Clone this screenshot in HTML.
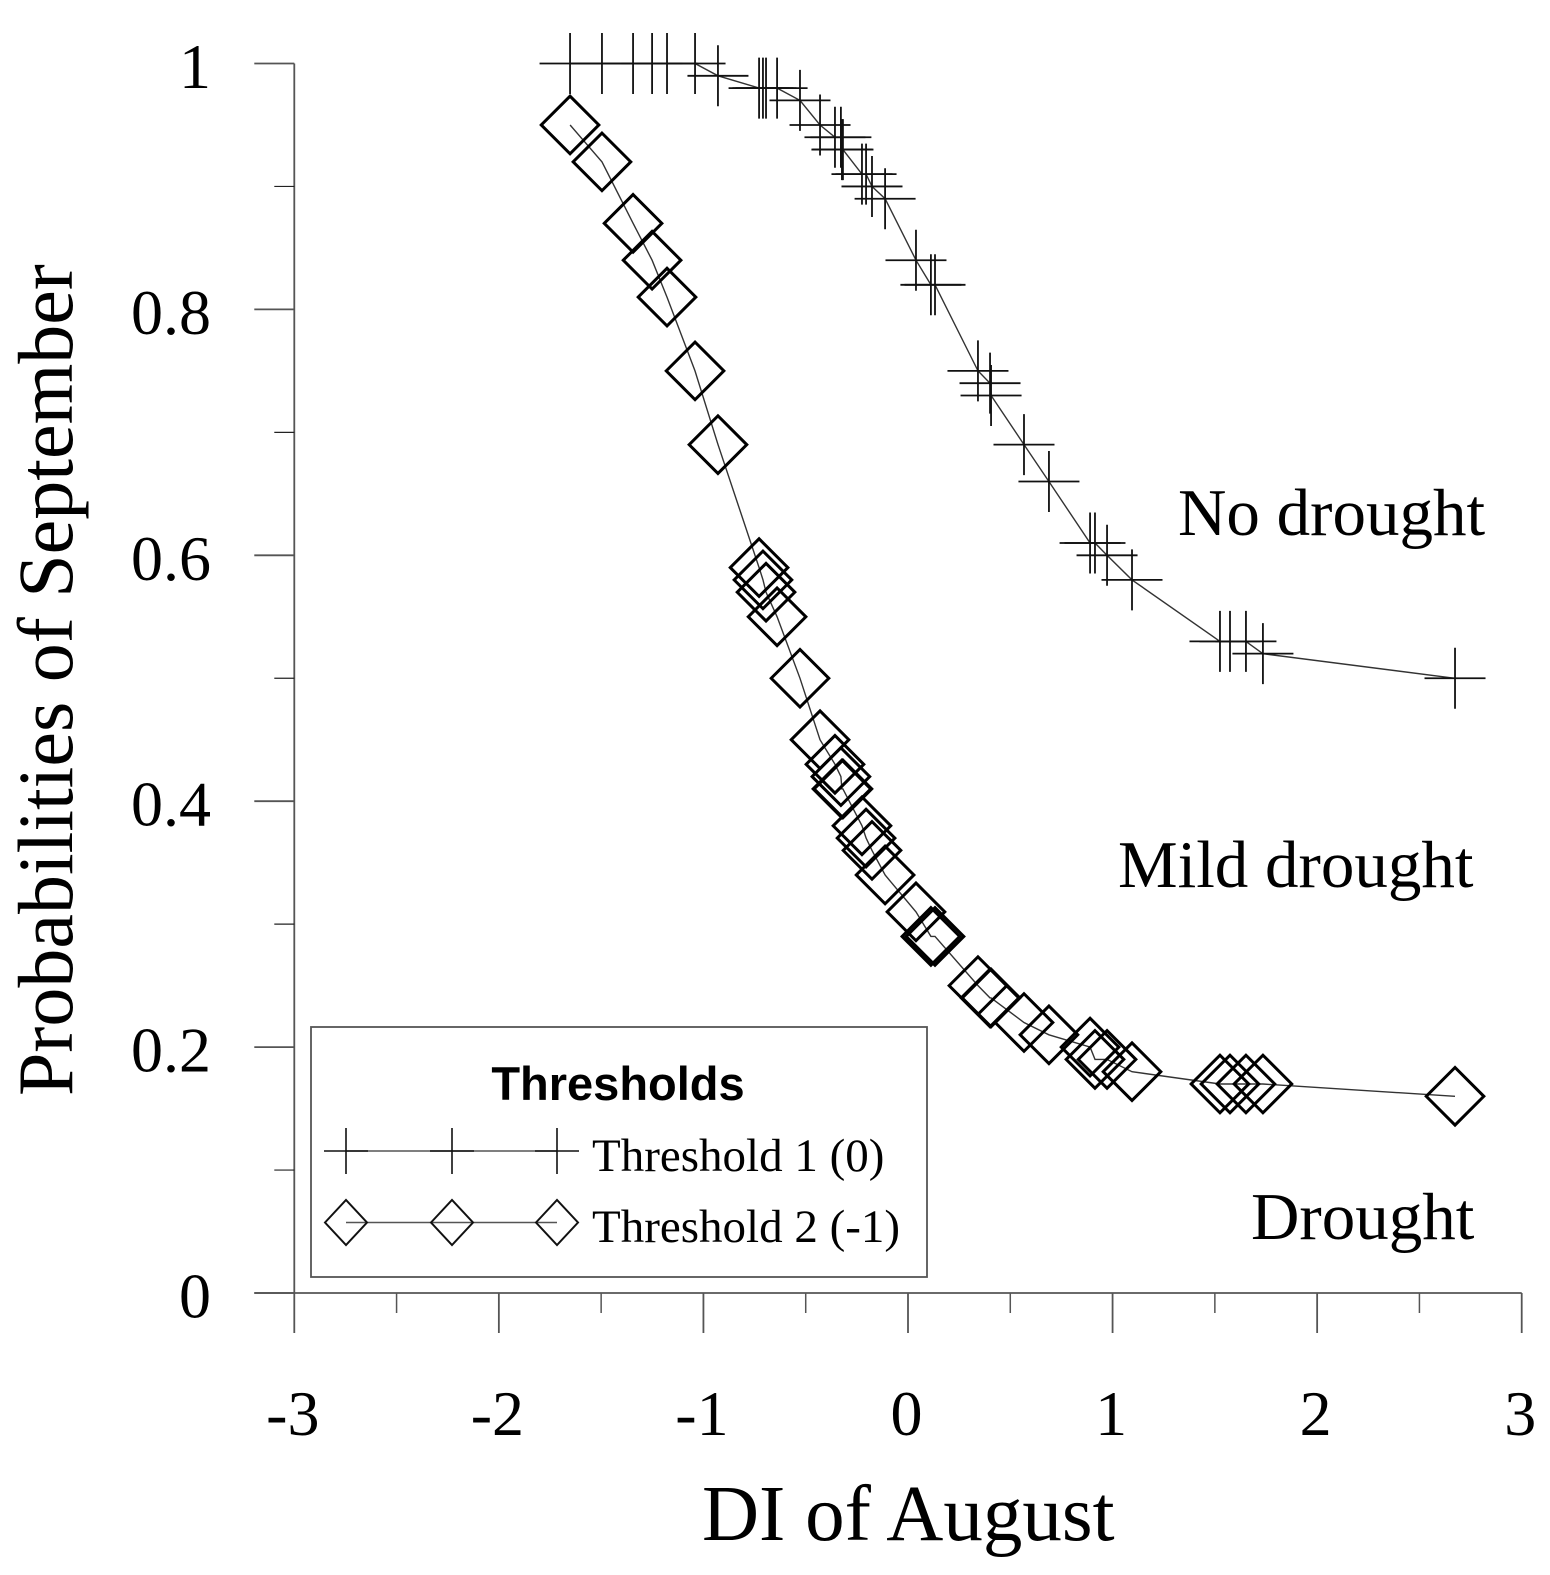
<!DOCTYPE html>
<html lang="en">
<head>
<meta charset="utf-8">
<title>Probabilities of September vs DI of August</title>
<style>
html,body{margin:0;padding:0;background:#fff;}
svg{display:block;}
text{font-family:"Liberation Serif",serif;fill:#000;}
</style>
</head>
<body>
<svg id="chart" xmlns="http://www.w3.org/2000/svg" width="1550" height="1575" viewBox="0 0 1550 1575">
  <rect x="0" y="0" width="1550" height="1575" fill="#fff"/>
  <g id="axes"></g>
  <g id="series"></g>
  <text transform="translate(72,1096) rotate(-90)" font-size="78">Probabilities of September</text>
  <text x="702" y="1540" font-size="79">DI of August</text>
  <text x="1178" y="535" font-size="67">No drought</text>
  <text x="1118" y="887" font-size="67">Mild drought</text>
  <text x="1251" y="1239" font-size="67">Drought</text>
  <g>
    <rect x="311" y="1027" width="616" height="250" fill="#fff" stroke="#555" stroke-width="1.8"/>
    <text x="618" y="1100" text-anchor="middle" font-size="47" font-weight="700" style="font-family:'Liberation Sans',sans-serif">Thresholds</text>
    <g fill="none" stroke="#111" stroke-width="1.6">
      <path stroke="#555" d="M346 1151H557"/>
      <path d="M324 1151H368M346 1128V1174M430 1151H474M452 1128V1174M535 1151H579M557 1128V1174"/>
    </g>
    <text x="592" y="1171" font-size="47">Threshold 1 (0)</text>
    <g fill="none" stroke="#111" stroke-width="2">
      <path stroke="#555" stroke-width="1.6" d="M346 1222.5H557"/>
      <path d="M325 1222.5L346 1200L367 1222.5L346 1245ZM431 1222.5L452 1200L473 1222.5L452 1245ZM536 1222.5L557 1200L578 1222.5L557 1245Z"/>
    </g>
    <text x="592" y="1242" font-size="47">Threshold 2 (-1)</text>
  </g>
</svg>
<script>
var diValues = [-1.652,-1.496,-1.344,-1.251,-1.178,-1.041,-0.929,-0.728,-0.709,-0.694,-0.640,-0.528,-0.430,-0.357,-0.328,-0.323,-0.318,-0.225,-0.205,-0.176,-0.112,0.039,0.112,0.132,0.342,0.401,0.406,0.567,0.689,0.890,0.914,0.973,1.095,1.525,1.574,1.652,1.735,2.674];
var threshold1 = [1,1,1,1,1,1,0.99,0.98,0.98,0.98,0.98,0.97,0.95,0.94,0.94,0.93,0.93,0.91,0.91,0.90,0.89,0.84,0.82,0.82,0.75,0.74,0.73,0.69,0.66,0.61,0.61,0.60,0.58,0.53,0.53,0.53,0.52,0.50];
var threshold2 = [0.95,0.92,0.87,0.84,0.81,0.75,0.69,0.59,0.58,0.57,0.55,0.50,0.45,0.43,0.42,0.41,0.41,0.38,0.37,0.36,0.34,0.31,0.29,0.29,0.25,0.24,0.24,0.22,0.21,0.20,0.19,0.19,0.18,0.17,0.17,0.17,0.17,0.16];
var xTickValues = [-3,-2,-1,0,1,2,3];
var xMinorValues = [-2.5,-1.5,-0.5,0.5,1.5,2.5];
var yTickValues = [0,0.2,0.4,0.6,0.8,1];
var yMinorValues = [0.1,0.3,0.5,0.7,0.9];
var xTickLabels = ['-3','-2','-1','0','1','2','3'];
var yTickLabels = ['0','0.2','0.4','0.6','0.8','1'];

var NS = 'http://www.w3.org/2000/svg';
function xScale(v){ return 908 + 204.57 * v; }
function yScale(v){ return 1293 - 1229.5 * v; }
function make(tag, parent, attrs){
  var el = document.createElementNS(NS, tag);
  for (var k in attrs) el.setAttribute(k, attrs[k]);
  parent.appendChild(el);
  return el;
}
var axes = document.getElementById('axes');
var seriesGroup = document.getElementById('series');
var axisColor = '#555';

var xAxisLine = make('line', axes, {x1: xScale(-3) - 40, y1: yScale(0), x2: xScale(3), y2: yScale(0), stroke: axisColor, 'stroke-width': 1.8});


var yAxisLine = make('line', axes, {x1: xScale(-3), y1: yScale(0), x2: xScale(-3), y2: yScale(1), stroke: axisColor, 'stroke-width': 1.8});



xTickValues.forEach(function(v, i){
  var tick = make('line', axes, {x1: xScale(v), y1: yScale(0), x2: xScale(v), y2: yScale(0) + 40, stroke: axisColor, 'stroke-width': 1.8});
  
  
  var label = make('text', axes, {x: xScale(v) - 1.5, y: 1435, 'text-anchor': 'middle', 'font-size': 64});
  label.textContent = xTickLabels[i];
  
  
});
xMinorValues.forEach(function(v){
  var tick = make('line', axes, {x1: xScale(v), y1: yScale(0), x2: xScale(v), y2: yScale(0) + 20, stroke: axisColor, 'stroke-width': 1.5});
  
  
});
yTickValues.forEach(function(v, i){
  var tick = make('line', axes, {x1: xScale(-3) - 40, y1: yScale(v), x2: xScale(-3), y2: yScale(v), stroke: axisColor, 'stroke-width': 1.8});
  
  
  var label = make('text', axes, {x: 211, y: yScale(v) + 24.5, 'text-anchor': 'end', 'font-size': 64});
  label.textContent = yTickLabels[i];
  
  
});
yMinorValues.forEach(function(v){
  var tick = make('line', axes, {x1: xScale(-3) - 20, y1: yScale(v), x2: xScale(-3), y2: yScale(v), stroke: '#222', 'stroke-width': 1.2});
  
  
});

function linePoints(values){
  return values.map(function(v, i){ return xScale(diValues[i]).toFixed(1) + ',' + yScale(v).toFixed(1); }).join(' ');
}
var line1 = make('polyline', seriesGroup, {points: linePoints(threshold1), fill: 'none', stroke: '#333', 'stroke-width': 1.4});


var line2 = make('polyline', seriesGroup, {points: linePoints(threshold2), fill: 'none', stroke: '#333', 'stroke-width': 1.4});



threshold1.forEach(function(v, i){
  var cx = xScale(diValues[i]), cy = yScale(v), r = 30.5;
  var plus = make('path', seriesGroup, {d: 'M' + (cx - r) + ' ' + cy + 'H' + (cx + r) + 'M' + cx + ' ' + (cy - r) + 'V' + (cy + r), fill: 'none', stroke: '#111', 'stroke-width': 1.8});
  
  
});
threshold2.forEach(function(v, i){
  var cx = xScale(diValues[i]), cy = yScale(v), r = 28.8;
  var diamond = make('path', seriesGroup, {d: 'M' + (cx - r) + ' ' + cy + 'L' + cx + ' ' + (cy - r) + 'L' + (cx + r) + ' ' + cy + 'L' + cx + ' ' + (cy + r) + 'Z', fill: 'none', stroke: '#000', 'stroke-width': 3});
  
  
});
</script>
</body>
</html>
